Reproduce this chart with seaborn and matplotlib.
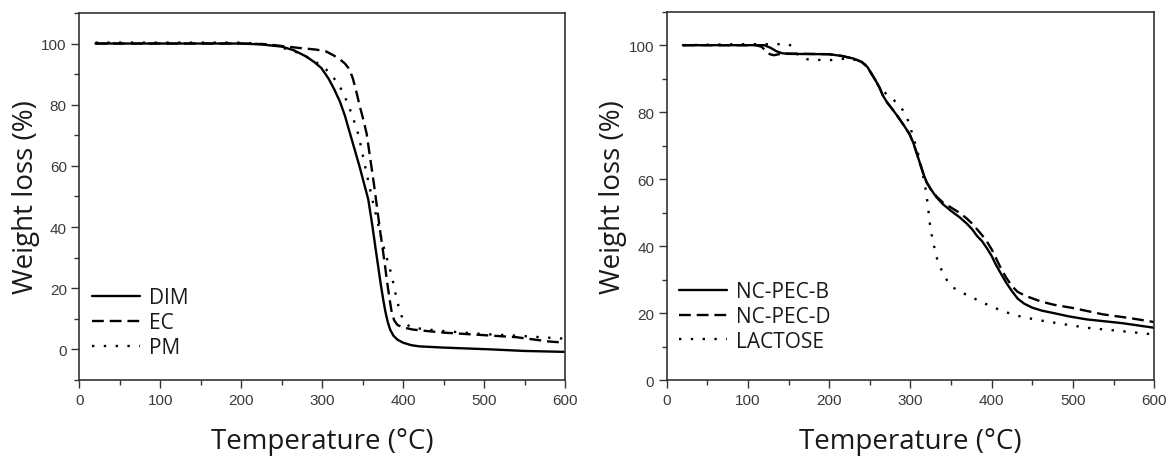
import matplotlib
matplotlib.use("Agg")
import matplotlib.pyplot as plt
from matplotlib.ticker import MultipleLocator
import seaborn as sns

# Left panel: DIM / EC / PM
dim_t = [20, 100, 200, 225, 250, 265, 280, 290, 299, 308, 315, 322, 328, 334, 340, 346, 352, 357, 362, 366, 369, 372, 375, 378, 381, 384, 388, 393, 400, 410, 420, 450, 480, 510, 550, 600]
dim_w = [100, 100, 100, 99.7, 99, 97.8, 95.8, 94, 92, 88.5, 85, 81, 76.5, 71, 65.5, 60, 54, 49, 40.5, 33, 27.5, 22, 17, 12.5, 9, 6.5, 4.5, 3.2, 2.2, 1.4, 1, 0.6, 0.3, 0, -0.5, -0.8]

ec_t = [20, 200, 230, 250, 270, 293, 305, 315, 322, 328, 334, 338, 342, 347, 351, 355, 358, 361, 364, 366.5, 369, 372, 375, 377.6, 380, 383, 386, 389, 393, 400, 412, 430, 450, 480, 510, 540, 560, 580, 600]
ec_w = [100, 100, 99.8, 99.2, 98.6, 98, 97.4, 96, 94.8, 93.5, 91.5, 88.5, 84.5, 79, 75, 70.5, 65, 59.5, 54, 49, 44, 38, 32.5, 27.5, 22.5, 17, 12, 9.5, 8, 7.2, 6.5, 6, 5.5, 5, 4.5, 4, 3.3, 2.6, 2.2]

pm_t = [20, 200, 220, 240, 255, 268, 280, 292, 305, 315, 325, 333, 339, 345, 349, 353, 357, 362, 366, 370, 374, 378, 382, 386, 390, 394, 398, 402, 408, 415, 430, 450, 500, 540, 570, 600]
pm_w = [100.3, 100.3, 100, 99.4, 98.3, 97.2, 95.8, 94, 91.5, 88.5, 84.5, 79.5, 75, 70, 65, 60, 55, 49, 44.5, 40, 35.5, 31.5, 28, 24, 19, 14.5, 11, 8.8, 7.5, 7, 6.5, 6, 5, 4.5, 4, 3.5]

# Right panel: NC-PEC-B / NC-PEC-D / LACTOSE
b_t = [20, 120, 128, 135, 142, 150, 200, 215, 230, 240, 247, 252, 257, 262, 266, 271, 278, 285, 292, 299, 304, 308, 312, 316, 320, 325, 332, 340, 350, 360, 369, 376, 382, 388, 393.7, 400, 405, 412, 418, 425, 432, 440, 450, 462, 476, 495, 517, 560, 600]
b_w = [100, 100, 99.2, 98.2, 97.6, 97.4, 97.3, 96.8, 96, 95, 93.5, 91.5, 89.5, 87.3, 85, 83, 80.8, 78.5, 76, 73.4, 70.5, 67.5, 64.5, 61.5, 59, 57, 54.6, 52.5, 50.5, 48.7, 46.8, 45, 43, 41.5, 39.5, 37, 34.5, 31.5, 29, 26.5, 24.3, 22.8, 21.6, 20.7, 20, 19, 18.1, 17, 15.6]

d_t = [20, 110, 117, 122, 127, 132, 140, 150, 200, 215, 230, 240, 247, 252, 257, 262, 266, 271, 278, 285, 292, 299, 304, 308, 312, 316, 320, 325, 332, 340, 350, 360, 369, 376, 382, 388, 393.7, 400, 405, 412, 418, 425, 432, 443, 460, 476, 500, 537, 570, 600]
d_w = [100, 100, 99.5, 98.3, 97.3, 97, 97.4, 97.5, 97.3, 96.8, 96, 95, 93.5, 91.5, 89.5, 87.3, 85, 83, 80.8, 78.5, 76, 73.4, 70.5, 67.5, 64.5, 61.5, 59, 57, 54.8, 53, 51.5, 50, 48.3, 46.7, 45, 43.3, 41.5, 39, 36.5, 33, 30.5, 28, 26.3, 25, 23.5, 22.5, 21.5, 19.6, 18.5, 17.3]

l_t = [20, 90, 150, 155, 160, 166, 175, 200, 220, 235, 243, 250, 256, 262, 270, 280, 291, 297, 303, 309, 314, 318, 321, 324, 327, 330, 333, 337, 343, 350, 360, 373, 390, 414, 435, 455, 480, 517, 560, 600]
l_w = [100, 100.3, 100.3, 99.5, 97.5, 96.2, 95.7, 95.5, 96, 95.5, 94.5, 92.5, 89.5, 87.5, 85.5, 83.5, 80.5, 77.5, 73, 68, 63, 58, 53, 46.5, 42, 39, 36, 33.5, 30.5, 28, 26.5, 25, 23, 20.5, 19, 18, 17, 15.6, 14.6, 13.6]

sns.set_style("ticks")
plt.rcParams["font.family"] = ["Liberation Sans", "DejaVu Sans"]

solid = "-"
dashed = (0, (5, 2.5))
dotted = (0, (1, 4))

fig = plt.figure(figsize=(11.71, 4.6), dpi=100)
ax1 = fig.add_axes([0.0677, 0.1717, 0.4148, 0.798])
ax2 = fig.add_axes([0.5693, 0.1717, 0.4164, 0.8007])

panels = [
    (ax1, [(dim_t, dim_w, "DIM", solid), (ec_t, ec_w, "EC", dashed), (pm_t, pm_w, "PM", dotted)], (-10, 110), 0.026),
    (ax2, [(b_t, b_w, "NC-PEC-B", solid), (d_t, d_w, "NC-PEC-D", dashed), (l_t, l_w, "LACTOSE", dotted)], (0, 110), 0.043),
]

label_font = dict(family="Open Sans", size=20, color="#1a1a1a")

for ax, series, ylim, leg_y in panels:
    for t, w, name, ls in series:
        sns.lineplot(x=t, y=w, ax=ax, color="black", linestyle=ls, linewidth=1.7,
                     label=name, sort=False)
    ax.set_xlim(0, 600)
    ax.set_ylim(*ylim)
    ax.xaxis.set_major_locator(MultipleLocator(100))
    ax.xaxis.set_minor_locator(MultipleLocator(50))
    ax.yaxis.set_major_locator(MultipleLocator(20))
    ax.yaxis.set_minor_locator(MultipleLocator(10))
    ax.tick_params(which="major", direction="out", length=6, width=1, color="#333333",
                   labelsize=11, labelcolor="#3a3a3a", pad=3)
    ax.tick_params(which="minor", direction="out", length=3.5, width=1, color="#333333")
    for sp in ax.spines.values():
        sp.set_visible(True)
        sp.set_color("#333333")
        sp.set_linewidth(1.2)
    ax.set_xlabel("Temperature (°C)", labelpad=15, **label_font)
    ax.set_ylabel("Weight loss (%)", labelpad=1, **label_font)
    leg = ax.legend(loc="lower left", bbox_to_anchor=(0.0, leg_y), frameon=False,
                    handlelength=2.3, handletextpad=0.45, labelspacing=0.18,
                    borderaxespad=0.2, prop={"family": "Open Sans", "size": 15})
    for txt in leg.get_texts():
        txt.set_color("#1a1a1a")

fig.savefig("out.png", dpi=100)
